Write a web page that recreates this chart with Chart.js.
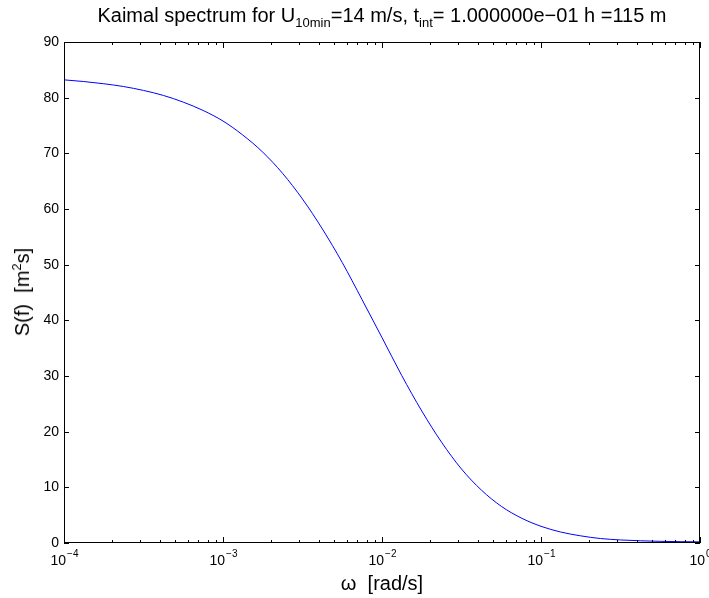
<!DOCTYPE html>
<html>
<head>
<meta charset="utf-8">
<script src="https://cdn.jsdelivr.net/npm/chart.js@4/dist/chart.umd.min.js"></script>
<style>
  html, body { margin: 0; padding: 0; background: #fff; }
  #wrap { position: relative; width: 709px; height: 598px; font-family: "Liberation Sans", Arial, sans-serif; color: #000; }
  #chart { position: absolute; left: 0; top: 0; }
  .lbl { position: absolute; white-space: nowrap; line-height: 1; }
  #title { left: 64px; width: 636px; top: 5px; text-align: center; font-size: 20px; }
  #xlabel { left: 64px; width: 636px; top: 573px; text-align: center; font-size: 20px; }
  #ylabel { left: 22px; top: 292px; font-size: 20px; transform: translate(-50%, -50%) rotate(-90deg); }
  sub, sup { font-size: 13px; line-height: 0; }
</style>
</head>
<body>
<div id="wrap">
  <canvas id="chart" width="709" height="598"></canvas>
  <div class="lbl" id="title">Kaimal spectrum for U<sub>10min</sub>=14 m/s, t<sub>int</sub>= 1.000000e&minus;01 h =115 m</div>
  <div class="lbl" id="ylabel">S(f)&nbsp; [m<sup>2</sup>s]</div>
  <div class="lbl" id="xlabel">&omega;&nbsp; [rad/s]</div>
</div>
<script>
// values (8 per decade)
const omega = [1e-4, 1.33e-4, 1.78e-4, 2.37e-4, 3.16e-4, 4.22e-4, 5.62e-4, 7.5e-4,
               1e-3, 1.33e-3, 1.78e-3, 2.37e-3, 3.16e-3, 4.22e-3, 5.62e-3, 7.5e-3,
               1e-2, 1.33e-2, 1.78e-2, 2.37e-2, 3.16e-2, 4.22e-2, 5.62e-2, 7.5e-2,
               0.1, 0.133, 0.178, 0.237, 0.316, 0.422, 0.562, 0.75, 1];
const spectrum = [83.2, 82.9, 82.5, 82.0, 81.3, 80.4, 79.2, 77.7,
                  75.8, 73.3, 70.2, 66.4, 61.8, 56.4, 50.4, 43.7,
                  36.9, 30.1, 23.7, 18.1, 13.3, 9.5, 6.6, 4.5,
                  3.0, 1.97, 1.28, 0.8, 0.55, 0.4, 0.3, 0.24, 0.2];
const xDecades = [1e-4, 1e-3, 1e-2, 1e-1, 1];
const xExponents = ["\u22124", "\u22123", "\u22122", "\u22121", "0"];
const yTicks = [0, 10, 20, 30, 40, 50, 60, 70, 80, 90];

// MATLAB-like box with inward ticks and 10^n labels
const matlabAxes = {
    id: "matlabAxes",
    afterDraw(chart) {
        const ctx = chart.ctx;
        const a = chart.chartArea;
        const x = chart.scales.x;
        const y = chart.scales.y;
        ctx.save();
        ctx.strokeStyle = "#000";
        ctx.lineWidth = 1;
        ctx.beginPath();
        yTicks.forEach(function(v) {
            let py = Math.round(y.getPixelForValue(v)) + 0.5;
            ctx.moveTo(a.left, py); ctx.lineTo(a.left + 5, py);
            ctx.moveTo(a.right, py); ctx.lineTo(a.right - 5, py);
        });
        xDecades.forEach(function(d, i) {
            let px = Math.round(x.getPixelForValue(d)) + 0.5;
            ctx.moveTo(px, a.bottom); ctx.lineTo(px, a.bottom - 6);
            ctx.moveTo(px, a.top); ctx.lineTo(px, a.top + 6);
            if (i < xDecades.length - 1) {
                for (let m = 2; m <= 9; m++) {
                    let mx = Math.round(x.getPixelForValue(d * m)) + 0.5;
                    ctx.moveTo(mx, a.bottom); ctx.lineTo(mx, a.bottom - 3);
                    ctx.moveTo(mx, a.top); ctx.lineTo(mx, a.top + 3);
                }
            }
        });
        ctx.stroke();
        ctx.strokeRect(Math.round(a.left) + 0.5, Math.round(a.top) + 0.5, Math.round(a.width) - 1, Math.round(a.height) - 1);

        ctx.fillStyle = "#000";
        ctx.textBaseline = "alphabetic";
        ctx.textAlign = "left";
        xDecades.forEach(function(d, i) {
            let px = x.getPixelForValue(d);
            ctx.font = "14px 'Liberation Sans', Arial, sans-serif";
            let w1 = ctx.measureText("10").width;
            ctx.font = "10px 'Liberation Sans', Arial, sans-serif";
            let w2 = ctx.measureText(xExponents[i]).width;
            let start = px - (w1 + w2) / 2;
            ctx.font = "14px 'Liberation Sans', Arial, sans-serif";
            ctx.fillText("10", start, 565);
            ctx.font = "10px 'Liberation Sans', Arial, sans-serif";
            ctx.fillText(xExponents[i], start + w1 + 1, 557);
        });
        ctx.restore();
    }
};

const points = omega.map(function(w, i) { return { x: w, y: spectrum[i] }; });

new Chart(document.getElementById("chart"), {
    type: "line",
    data: {
        datasets: [{
            data: points,
            borderColor: "#0000ff",
            borderWidth: 1,
            pointRadius: 0,
            fill: false,
            cubicInterpolationMode: "monotone"
        }]
    },
    options: {
        responsive: false,
        animation: false,
        devicePixelRatio: 1,
        layout: { padding: { left: 0, top: 42, right: 9, bottom: 0 } },
        plugins: {
            legend: { display: false },
            tooltip: { enabled: false },
            title: { display: false }
        },
        scales: {
            x: {
                type: "logarithmic",
                min: 1e-4,
                max: 1,
                grid: { display: false, drawTicks: false },
                border: { display: false },
                ticks: { display: false },
                afterFit: function(s) { s.height = 55; }
            },
            y: {
                type: "linear",
                min: 0,
                max: 90,
                grid: { display: false, drawTicks: false },
                border: { display: false },
                ticks: {
                    stepSize: 10,
                    padding: 5,
                    color: "#000",
                    font: { family: "'Liberation Sans', Arial, sans-serif", size: 14 }
                },
                afterFit: function(s) { s.width = 64; }
            }
        }
    },
    plugins: [matlabAxes]
});
</script>
</body>
</html>
